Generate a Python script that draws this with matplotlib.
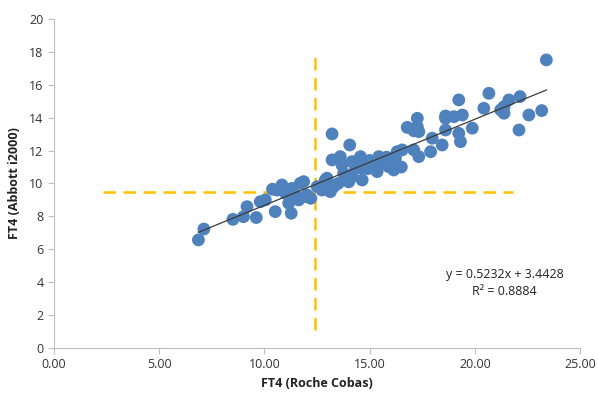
import matplotlib
matplotlib.use('Agg')
import matplotlib.pyplot as plt
import numpy as np
from matplotlib.ticker import FormatStrFormatter

# FT4 values: Roche Cobas (x) vs Abbott i2000 (y)
roche = [6.86, 7.12, 8.50, 9.00, 9.17, 9.61, 9.80, 10.04, 10.51, 10.38,
         10.83, 10.99, 11.27, 11.15, 11.62, 11.70, 11.46, 11.94, 11.86, 12.02,
         12.50, 12.89, 13.13, 12.73, 13.29, 13.21, 14.05, 13.21, 13.60, 13.68,
         14.16, 14.32, 14.56, 14.64, 14.16, 13.76, 14.64, 15.12, 15.43, 15.59,
         15.35, 15.90, 16.22, 16.14, 16.30, 16.54, 16.78, 17.26, 17.09, 17.33,
         17.26, 17.33, 17.97, 18.44, 17.89, 18.60, 19.00, 19.40, 18.60, 19.23,
         19.31, 19.87, 19.23, 20.66, 20.42, 21.22, 21.61, 22.14, 21.38, 21.38,
         22.56, 23.17, 22.09, 23.39, 12.97,
         10.60, 11.30, 12.20, 13.50, 14.00, 14.90, 15.00, 15.80, 16.50, 17.10,
         18.60]
abbott = [6.57, 7.23, 7.82, 7.98, 8.59, 7.93, 8.89, 9.00, 8.29, 9.65,
          9.91, 9.41, 8.19, 8.80, 9.00, 10.01, 9.30, 9.20, 10.11, 9.30,
          9.81, 10.21, 9.50, 9.60, 9.81, 13.01, 12.34, 11.43, 11.63, 11.13,
          11.33, 10.92, 11.63, 10.21, 10.41, 10.62, 10.92, 11.13, 11.63, 11.23,
          10.72, 11.02, 11.53, 10.82, 11.93, 12.04, 13.41, 13.45, 12.04, 11.63,
          13.96, 13.15, 12.75, 12.34, 11.93, 13.96, 14.06, 14.16, 13.25, 13.05,
          12.54, 13.36, 15.08, 15.48, 14.57, 14.47, 15.08, 15.28, 14.67, 14.27,
          14.16, 14.43, 13.25, 17.51, 10.32,
          9.60, 9.70, 9.10, 10.00, 10.10, 10.90, 11.40, 11.60, 11.00, 13.20,
          14.10]

# trendline from the chart's equation
slope = 0.5232
intercept = 3.4428
r_squared = 0.8884

# dashed reference lines
ref_x = 12.42
ref_x_span = [1.1, 17.7]
ref_y = 9.48
ref_y_span = [2.33, 21.8]

plt.rcParams['font.family'] = ['Open Sans', 'DejaVu Sans']

fig = plt.figure(figsize=(5.98, 3.96), dpi=100)
ax = fig.add_axes([0.0903, 0.1212, 0.880, 0.831])

ax.vlines(ref_x, ref_x_span[0], ref_x_span[1], colors='#FFC000', linewidth=1.8,
          linestyles=(0, (5, 3)), zorder=1)
ax.hlines(ref_y, ref_y_span[0], ref_y_span[1], colors='#FFC000', linewidth=1.8,
          linestyles=(0, (5, 3)), zorder=1)

ax.scatter(roche, abbott, s=85, color='#4F81BD', edgecolors='none', zorder=2)

xs = np.array([min(roche), max(roche)])
ax.plot(xs, slope * xs + intercept, color='#3a3a3a', linewidth=0.9, zorder=3)

ax.text(21.4, 4.45, f'y = {slope}x + {intercept}', ha='center', va='center', fontsize=9, color='#222222')
ax.text(21.4, 3.45, f'R² = {r_squared}', ha='center', va='center', fontsize=9, color='#222222')

ax.set_xlim(0, 25)
ax.set_ylim(0, 20)
ax.set_xticks(np.arange(0, 26, 5))
ax.set_yticks(np.arange(0, 21, 2))
ax.xaxis.set_major_formatter(FormatStrFormatter('%.2f'))

for side in ['top', 'right']:
    ax.spines[side].set_visible(False)
for side in ['left', 'bottom']:
    ax.spines[side].set_color('#BFBFBF')
ax.tick_params(axis='both', colors='#BFBFBF', labelcolor='#333333', labelsize=9, length=4, width=0.8)

ax.set_xlabel('FT4 (Roche Cobas)', fontsize=9, fontweight='bold', color='#222222', labelpad=4)
ax.set_ylabel('FT4 (Abbott i2000)', fontsize=9, fontweight='bold', color='#222222', labelpad=6)

fig.savefig('out.png', dpi=100)
